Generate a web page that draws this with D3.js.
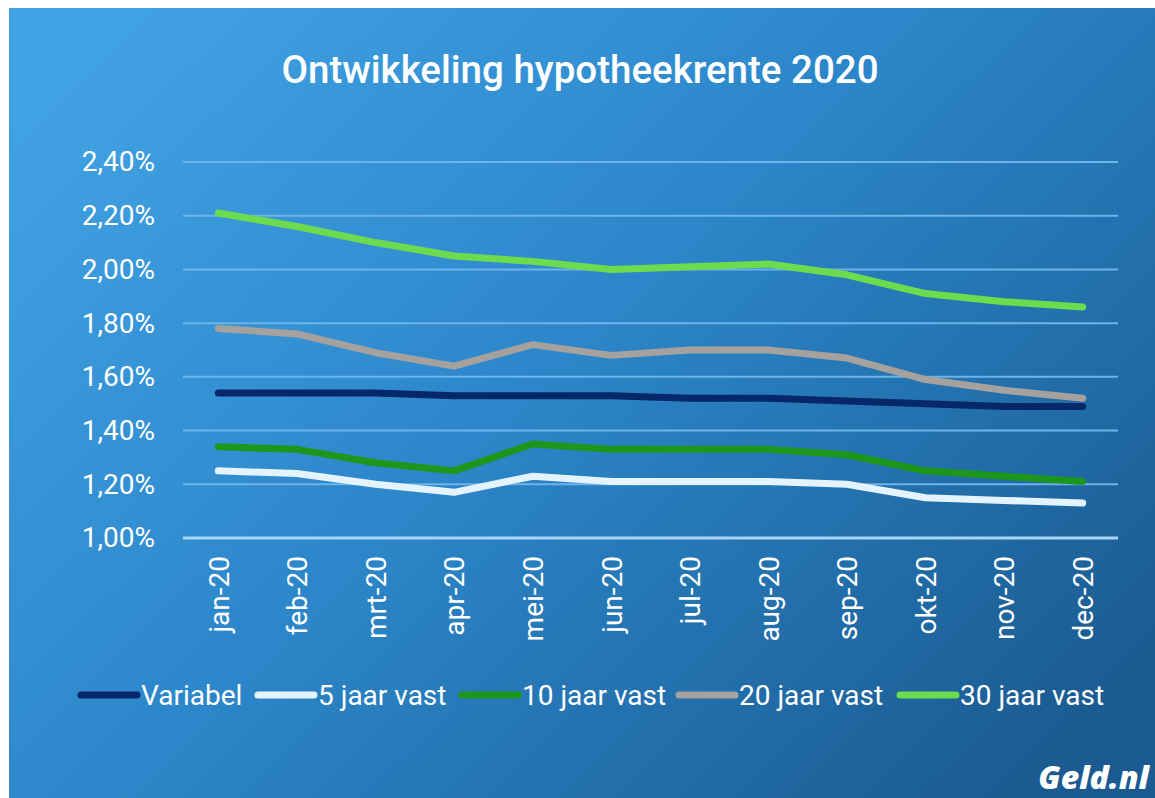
<!DOCTYPE html>
<html>
<head>
<meta charset="utf-8">
<script src="https://cdn.jsdelivr.net/npm/d3@7"></script>
<style>
  html, body { margin: 0; padding: 0; background: #fff; }
  svg { display: block; }
  text { font-family: Roboto, "Noto Sans", sans-serif; fill: #fff; }
</style>
</head>
<body>
<div id="graph"></div>
<script>
// Data
var months = ["jan-20","feb-20","mrt-20","apr-20","mei-20","jun-20","jul-20","aug-20","sep-20","okt-20","nov-20","dec-20"];
var variabel = [1.54,1.54,1.54,1.53,1.53,1.53,1.52,1.52,1.51,1.50,1.49,1.49];
var vast5    = [1.25,1.24,1.20,1.17,1.23,1.21,1.21,1.21,1.20,1.15,1.14,1.13];
var vast10   = [1.34,1.33,1.28,1.25,1.35,1.33,1.33,1.33,1.31,1.25,1.23,1.21];
var vast20   = [1.78,1.76,1.69,1.64,1.72,1.68,1.70,1.70,1.67,1.59,1.55,1.52];
var vast30   = [2.21,2.16,2.10,2.05,2.03,2.00,2.01,2.02,1.98,1.91,1.88,1.86];
var yTicks   = [1.0,1.2,1.4,1.6,1.8,2.0,2.2,2.4];
var seriesNames  = ["Variabel","5 jaar vast","10 jaar vast","20 jaar vast","30 jaar vast"];
var seriesValues = [variabel, vast5, vast10, vast20, vast30];
var seriesColors = ["#06286a","#e4f4ff","#1c971c","#a4a19f","#6cdb4e"];

var W = 1155, H = 798;

var svg = d3.select("#graph")
    .append("svg")
    .attr("width", W)
    .attr("height", H);

// background gradient
var grad = svg.append("defs").append("linearGradient")
    .attr("id", "bg")
    .attr("x1", 0).attr("y1", 0.15)
    .attr("x2", 1).attr("y2", 0.85);
grad.append("stop").attr("offset", 0).attr("stop-color", "#41a2e3");
grad.append("stop").attr("offset", 0.45).attr("stop-color", "#2c87ca");
grad.append("stop").attr("offset", 1).attr("stop-color", "#1a5a90");

svg.append("rect")
    .attr("x", 9).attr("y", 8)
    .attr("width", W - 9).attr("height", H - 8)
    .attr("fill", "url(#bg)");

// Set ranges
var plotLeft = 183, plotRight = 1118;
var x = d3.scalePoint()
    .domain(months)
    .range([plotLeft, plotRight])
    .padding(0.45);
var y = d3.scaleLinear()
    .domain([1.0, 2.4])
    .range([538, 162]);

// grid lines
svg.append("g")
    .selectAll("line")
    .data(yTicks)
    .enter()
    .append("line")
    .attr("x1", plotLeft)
    .attr("x2", plotRight)
    .attr("y1", function(d) { return y(d); })
    .attr("y2", function(d) { return y(d); })
    .attr("stroke", function(d) { return d === 1.0 ? "#a9d6f6" : "#6db4ea"; })
    .attr("stroke-width", function(d) { return d === 1.0 ? 3 : 2; });

// y axis
var fmt = function(d) { return d.toFixed(2).replace(".", ",") + "%"; };
var yaxis = svg.append("g")
    .attr("transform", "translate(" + plotLeft + ",0)")
    .call(d3.axisLeft(y)
      .tickValues(yTicks)
      .tickFormat(fmt)
      .tickSize(0)
      .tickPadding(28));
yaxis.select(".domain").remove();
yaxis.selectAll("text")
    .style("font-size", "28px")
    .style("font-family", "Roboto, sans-serif")
    .attr("fill", "#fff");

// x axis
var xaxis = svg.append("g")
    .attr("transform", "translate(0,538)")
    .call(d3.axisBottom(x).tickSize(0));
xaxis.select(".domain").remove();
xaxis.selectAll("text")
    .style("font-size", "28px")
    .style("font-family", "Roboto, sans-serif")
    .attr("fill", "#fff")
    .attr("text-anchor", "end")
    .attr("transform", "rotate(-90)")
    .attr("x", -18)
    .attr("y", 0)
    .attr("dy", "0.35em");

// title
svg.append("text")
    .attr("x", 580)
    .attr("y", 83)
    .attr("text-anchor", "middle")
    .style("font-size", "38.5px")
    .style("font-weight", "500")
    .text("Ontwikkeling hypotheekrente 2020");

// lines
var valueLine = d3.line()
    .x(function(d, i) { return x(months[i]); })
    .y(function(d) { return y(d); });

svg.append("g")
    .selectAll("path")
    .data(seriesValues)
    .enter()
    .append("path")
    .attr("d", valueLine)
    .attr("fill", "none")
    .attr("stroke", function(d, i) { return seriesColors[i]; })
    .attr("stroke-width", 7)
    .attr("stroke-linejoin", "round")
    .attr("stroke-linecap", "round");

// legend
var legendX = [81, 258, 462, 679, 900];
var legend = svg.append("g");
seriesNames.forEach(function(name, i) {
  legend.append("line")
      .attr("x1", legendX[i]).attr("x2", legendX[i] + 56)
      .attr("y1", 695).attr("y2", 695)
      .attr("stroke", seriesColors[i])
      .attr("stroke-width", 7)
      .attr("stroke-linecap", "round");
  legend.append("text")
      .attr("x", legendX[i] + 60)
      .attr("y", 705)
      .style("font-size", "28px")
      .text(name);
});

// logo
svg.append("text")
    .attr("x", 1149)
    .attr("y", 789)
    .attr("text-anchor", "end")
    .style("font-family", "'Open Sans', sans-serif")
    .style("font-size", "32px")
    .style("font-weight", "800")
    .style("font-style", "italic")
    .text("Geld.nl");
</script>
</body>
</html>
